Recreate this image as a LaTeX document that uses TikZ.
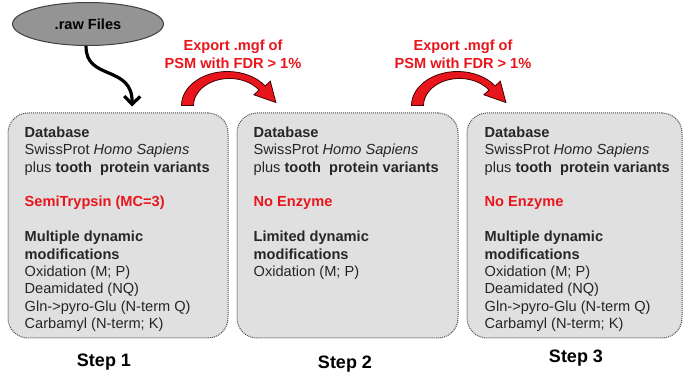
\documentclass[tikz,border=0pt]{standalone}
\usepackage{fontspec}
\setmainfont{Liberation Sans}
\usetikzlibrary{arrows.meta,shapes.geometric}
\definecolor{exportred}{RGB}{232,22,28}
\definecolor{boxgray}{RGB}{224,224,224}

\tikzset{
  stepbox/.style={draw=black!70,densely dotted,line width=1pt,fill=boxgray,
    rounded corners=20pt,minimum height=225pt},
  boxtext/.style={anchor=north west,inner sep=0pt,align=left,text=black!85,
    font=\fontsize{14.6}{17.4}\selectfont},
  steplabel/.style={font=\fontsize{18}{20}\selectfont\bfseries},
  exportlabel/.style={text=exportred,align=center,inner sep=0pt,
    font=\fontsize{14.6}{17.8}\selectfont\bfseries},
  % curved block arrow between two search steps
  redarc/.pic={
    \fill[exportred,draw=red!25!black,line width=0.8pt]
      (-46pt,0pt) arc[start angle=180,end angle=35,x radius=46pt,y radius=34pt]
      -- (42.8pt,24.3pt) -- (48.4pt,3pt) -- (26.4pt,10.7pt) -- (31.5pt,15.5pt)
      arc[start angle=35,end angle=180,x radius=36pt,y radius=27pt] -- cycle;
  }
}

\begin{document}
\begin{tikzpicture}[x=1pt,y=1pt]
\useasboundingbox (0,0) rectangle (683,385);

\node[ellipse,draw=black!75,line width=1pt,fill=black!42,minimum width=151pt,
  minimum height=43pt,font=\fontsize{14.6}{17}\selectfont\bfseries] (raw) at (88,361) {.raw Files};

\node[stepbox,minimum width=220pt] (box1) at (118,159.5) {};
\node[stepbox,minimum width=221pt] (box2) at (347.5,159.5) {};
\node[stepbox,minimum width=215pt] (box3) at (574.5,159.5) {};

\draw[line width=3.2pt,-{Straight Barb[length=8pt,width=16pt]}]
  (raw.265) .. controls +(-1,-35) and +(1,42) .. ([xshift=14pt,yshift=6pt]box1.north);

\pic at ([xshift=-1pt,yshift=7pt]box1.north east) {redarc};
\pic at ([xshift=-1pt,yshift=7pt]box2.north east) {redarc};
\node[exportlabel] (exp1) at (233,331) {Export .mgf of\\PSM with FDR > 1\%};
\node[exportlabel] (exp2) at (463,331) {Export .mgf of\\PSM with FDR > 1\%};

\node[boxtext] (txt1) at ([shift={(17,-14)}]box1.north west) {%
  \textbf{Database}\\
  SwissProt \textit{Homo Sapiens}\\
  plus \textbf{tooth\ \ protein variants}\\[17.4pt]
  {\color{exportred}\textbf{SemiTrypsin (MC=3)}}\\[17.4pt]
  \textbf{Multiple dynamic}\\
  \textbf{modifications}\\
  Oxidation (M; P)\\
  Deamidated (NQ)\\
  Gln->pyro-Glu (N-term Q)\\
  Carbamyl (N-term; K)};
\node[boxtext] (txt2) at ([shift={(17,-14)}]box2.north west) {%
  \textbf{Database}\\
  SwissProt \textit{Homo Sapiens}\\
  plus \textbf{tooth\ \ protein variants}\\[17.4pt]
  {\color{exportred}\textbf{No Enzyme}}\\[17.4pt]
  \textbf{Limited dynamic}\\
  \textbf{modifications}\\
  Oxidation (M; P)};
\node[boxtext] (txt3) at ([shift={(18,-14)}]box3.north west) {%
  \textbf{Database}\\
  SwissProt \textit{Homo Sapiens}\\
  plus \textbf{tooth\ \ protein variants}\\[17.4pt]
  {\color{exportred}\textbf{No Enzyme}}\\[17.4pt]
  \textbf{Multiple dynamic}\\
  \textbf{modifications}\\
  Oxidation (M; P)\\
  Deamidated (NQ)\\
  Gln->pyro-Glu (N-term Q)\\
  Carbamyl (N-term; K)};

\node[steplabel] (s1) at (104,23) {Step 1};
\node[steplabel] (s2) at (345,21) {Step 2};
\node[steplabel] (s3) at (576,27) {Step 3};
\end{tikzpicture}
\end{document}
